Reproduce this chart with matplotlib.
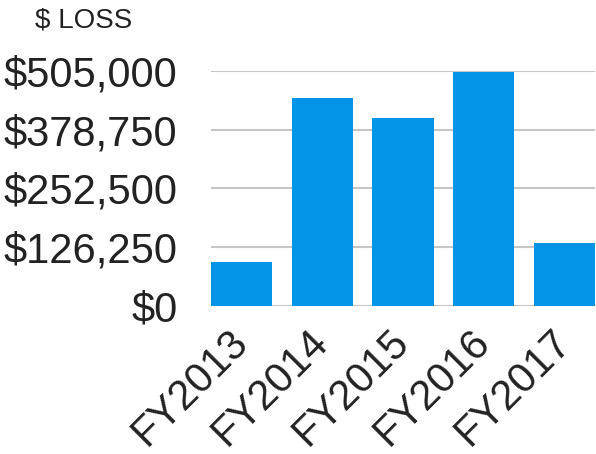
import matplotlib
matplotlib.use("Agg")
import matplotlib.pyplot as plt
from matplotlib.ticker import FuncFormatter

# values
years = ["FY2013", "FY2014", "FY2015", "FY2016", "FY2017"]
loss = [93800, 445800, 402800, 503000, 135900]
y_ticks = [0, 126250, 252500, 378750, 505000]

bar_color = "#0394e7"
grid_color = "#c6c6c6"
text_color = "#222222"

plt.rcParams["font.family"] = ["Liberation Sans", "DejaVu Sans"]

fig = plt.figure(figsize=(5.96, 4.54), dpi=100)
ax = fig.add_axes([211 / 596, 1 - 306 / 454, 384 / 596, 235.3 / 454])

ax.bar(range(len(years)), loss, width=0.758, color=bar_color, zorder=2)

ax.set_xlim(-0.379, len(years) - 1 + 0.379)
ax.set_ylim(0, 505000)
ax.set_yticks(y_ticks)
ax.yaxis.set_major_formatter(FuncFormatter(lambda v, p: "${:,.0f}".format(v)))
ax.grid(axis="y", color=grid_color, linewidth=1.5, zorder=0)
ax.set_axisbelow(True)

for s in ax.spines.values():
    s.set_visible(False)

ax.tick_params(axis="y", length=0, pad=24, labelsize=30, labelcolor=text_color)
ax.tick_params(axis="x", length=0, pad=22, labelsize=30, labelcolor=text_color)
ax.set_xticks(range(len(years)))
ax.set_xticklabels(years, rotation=45, ha="right", va="center",
                   rotation_mode="anchor")

fig.text(35 / 596, 1 - 27 / 454, "$ LOSS", fontsize=20, color=text_color,
         ha="left", va="baseline")

fig.savefig("out.png", dpi=100)
